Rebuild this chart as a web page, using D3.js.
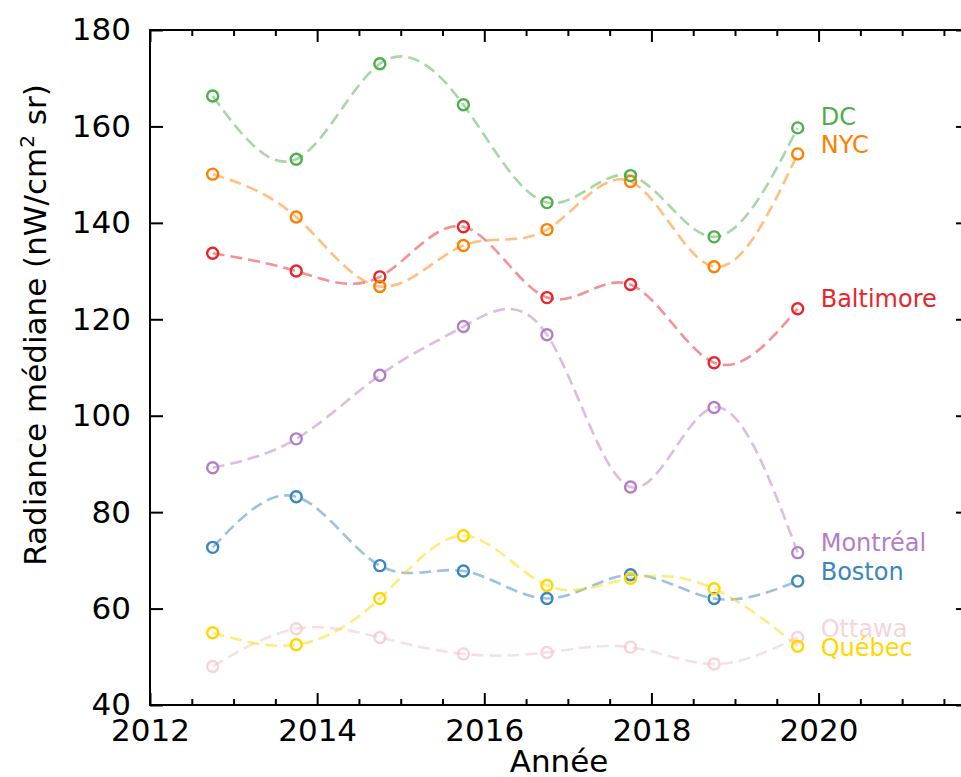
<!DOCTYPE html>
<html><head><meta charset="utf-8">
<script src="https://cdn.jsdelivr.net/npm/d3@7"></script>
<style>body{margin:0;background:#fff}svg{display:block;font-family:"DejaVu Sans",sans-serif}</style>
</head><body><svg id="c" width="961" height="777"></svg>
<script>
const years = [2012.75, 2013.75, 2014.75, 2015.75, 2016.75, 2017.75, 2018.75, 2019.75];
const cities = ["Ottawa", "Boston", "Québec", "Montréal", "Baltimore", "NYC", "DC"];
const colors = ["#f3c6cb", "#3a86c0", "#ffd700", "#b47ec4", "#e8262a", "#ff8000", "#4daf4a"];
const valOttawa = [48.0, 55.8, 54.0, 50.6, 50.9, 52.0, 48.5, 54.0];
const valBoston = [72.7, 83.2, 68.9, 67.8, 62.1, 67.0, 62.1, 65.7];
const valQuebec = [55.0, 52.5, 62.1, 75.1, 64.8, 66.3, 64.1, 52.2];
const valMontreal = [89.2, 95.2, 108.4, 118.5, 116.8, 85.2, 101.7, 71.6];
const valBaltimore = [133.7, 130.0, 128.8, 139.2, 124.5, 127.2, 111.0, 122.2];
const valNYC = [150.1, 141.2, 126.8, 135.3, 138.6, 148.6, 130.9, 154.3];
const valDC = [166.3, 153.2, 173.0, 164.5, 144.2, 149.8, 137.1, 159.7];
const series = [valOttawa, valBoston, valQuebec, valMontreal, valBaltimore, valNYC, valDC];
const labelValues = [55.8, 67.6, 51.8, 73.6, 124.2, 156.2, 162.0];
const xTicks = [2012, 2014, 2016, 2018, 2020];
const yTicks = [40, 60, 80, 100, 120, 140, 160, 180];

const svg = d3.select("#c");
const L = 150, R = 969, T = 30, B = 705;
const x = d3.scaleLinear().domain([2012, 2021.8]).range([L, R]);
const y = d3.scaleLinear().domain([40, 180]).range([B, T]);

const line = d3.line().x((d, i) => x(years[i])).y(d => y(d)).curve(d3.curveNatural);

series.forEach((vals, k) => {
  svg.append("path").attr("d", line(vals)).attr("fill", "none")
    .attr("stroke", colors[k]).attr("stroke-opacity", k === 0 ? 0.55 : 0.5)
    .attr("stroke-width", 2.6).attr("stroke-dasharray", "12,6");
});
series.forEach((vals, k) => {
  svg.append("g").selectAll("circle").data(vals).join("circle")
    .attr("cx", (d, i) => x(years[i])).attr("cy", d => y(d)).attr("r", 5.5)
    .attr("fill", "none").attr("stroke", colors[k]).attr("stroke-width", 2.4)
    .attr("stroke-opacity", k === 0 ? 0.75 : 1);
  svg.append("text").attr("x", x(years[7]) + 23).attr("y", y(labelValues[k]))
    .attr("dominant-baseline", "central").attr("font-size", 24)
    .attr("fill", colors[k]).attr("fill-opacity", k === 0 ? 0.75 : 1).text(cities[k]);
});

// axes
const minorX = d3.range(2012, 2022, 0.5).filter(v => !xTicks.includes(v));
const ax = (g, axis) => { g.call(axis); g.select(".domain").remove(); g.selectAll("line").attr("stroke", "#000").attr("stroke-width", 2); };
svg.append("g").attr("transform", `translate(0,${B})`).call(g => ax(g, d3.axisBottom(x).tickValues(xTicks).tickSize(-12).tickPadding(14).tickFormat(d3.format("d"))));
svg.append("g").attr("transform", `translate(0,${B})`).call(g => ax(g, d3.axisBottom(x).tickValues(minorX).tickSize(-6).tickFormat("")));
svg.append("g").attr("transform", `translate(0,${T})`).call(g => ax(g, d3.axisTop(x).tickValues(xTicks).tickSize(-12).tickFormat("")));
svg.append("g").attr("transform", `translate(0,${T})`).call(g => ax(g, d3.axisTop(x).tickValues(minorX).tickSize(-6).tickFormat("")));
svg.append("g").attr("transform", `translate(${L},0)`).call(g => ax(g, d3.axisLeft(y).tickValues(yTicks).tickSize(-13).tickPadding(19)));
svg.append("g").attr("transform", `translate(${R},0)`).call(g => ax(g, d3.axisRight(y).tickValues(yTicks).tickSize(-13).tickFormat("")));
svg.selectAll(".tick text").attr("font-size", 31).attr("fill", "#000").attr("font-family", "DejaVu Sans");
svg.append("rect").attr("x", L).attr("y", T).attr("width", R - L).attr("height", B - T)
  .attr("fill", "none").attr("stroke", "#000").attr("stroke-width", 2);

svg.append("text").attr("x", 559).attr("y", 772).attr("text-anchor", "middle").attr("font-size", 31).text("Année");
const yl = svg.append("text").attr("transform", "translate(46,325) rotate(-90)").attr("text-anchor", "middle").attr("font-size", 31);
yl.append("tspan").text("Radiance médiane (nW/cm");
yl.append("tspan").attr("dy", -12).attr("font-size", 20).text("2");
yl.append("tspan").attr("dy", 12).text(" sr)");
</script></body></html>
